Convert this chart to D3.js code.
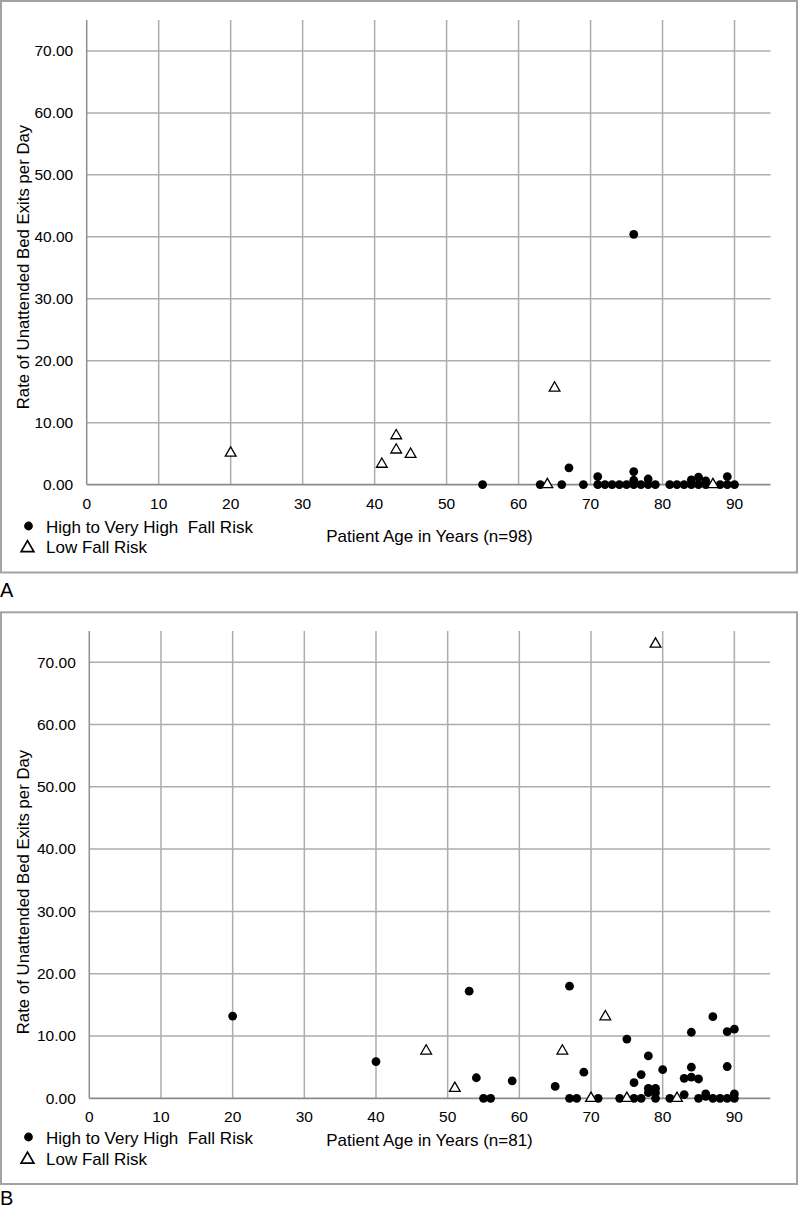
<!DOCTYPE html>
<html>
<head>
<meta charset="utf-8">
<script src="https://cdn.jsdelivr.net/npm/d3@7"></script>
<style>
  html, body { margin: 0; padding: 0; background: #fff; }
  svg { display: block; font-family: "Liberation Sans", Arial, Helvetica, sans-serif; }
</style>
</head>
<body>
<svg id="chart" width="800" height="1210"></svg>
<script>
// ---------------- DATA ----------------
const xTicks = [0, 10, 20, 30, 40, 50, 60, 70, 80, 90];
const yTicks = [0, 10, 20, 30, 40, 50, 60, 70];
const seriesNames = ["High to Very High\u00a0 Fall Risk", "Low Fall Risk"];

// Panel A: [age, rate]
const highA = [
  [55, 0], [63, 0], [66, 0], [67, 2.7], [69, 0],
  [71, 1.3], [71, 0], [72, 0], [73, 0], [74, 0], [75, 0], [76, 0], [76, 2.1], [76, 0.7],
  [77, 0], [78, 0], [78, 0.9], [79, 0],
  [81, 0], [82, 0], [83, 0], [84, 0], [84, 0.75], [85, 0], [85, 1.2], [86, 0], [86, 0.6],
  [88, 0], [89, 0], [89, 1.3], [90, 0],
  [76, 40.4]
];
const lowA = [
  [20, 5.1], [41, 3.3], [43, 7.9], [43, 5.6], [45, 4.9], [64, 0], [65, 15.6], [87, 0]
];

// Panel B: [age, rate]
const highB = [
  [20, 13.2], [40, 5.9], [53, 17.2], [54, 3.3], [55, 0], [56, 0], [59, 2.8],
  [65, 1.9], [67, 18.0], [67, 0], [68, 0], [69, 4.2], [71, 0], [74, 0],
  [75, 9.5], [76, 0], [76, 2.5], [77, 0], [77, 3.8], [78, 6.8], [78, 1.6], [78, 0.9],
  [79, 1.6], [79, 0.9], [79, 0], [80, 4.6], [81, 0],
  [83, 0.6], [83, 3.2], [84, 3.4], [84, 5.0], [84, 10.6], [85, 3.1], [85, 0],
  [86, 0.3], [86, 0.7], [87, 0], [87, 13.1], [88, 0], [89, 0], [89, 5.1], [89, 10.7],
  [90, 0], [90, 0.7], [90, 11.1]
];
const lowB = [
  [47, 7.6], [51, 1.6], [66, 7.6], [70, 0], [72, 13.1], [75, 0], [79, 72.9], [82, 0]
];

const xTitles = ["Patient Age in Years (n=98)", "Patient Age in Years (n=81)"];
const yTitle = "Rate of Unattended Bed Exits per Day";
const panelLetters = ["A", "B"];

// ---------------- LAYOUT ----------------
const panels = [
  { high: highA, low: lowA, xTitle: xTitles[0], letter: panelLetters[0],
    frame: [1, 1, 796, 571.5], left: 86.7, right: 770.5, top: 20, bottom: 484.6,
    xTitleY: 536, yTitleY: 267, legendY: [527.5, 547.5], letterY: 597 },
  { high: highB, low: lowB, xTitle: xTitles[1], letter: panelLetters[1],
    frame: [1, 612.3, 796, 571.7], left: 89.3, right: 770.2, top: 631, bottom: 1098.3,
    xTitleY: 1140, yTitleY: 892, legendY: [1138.5, 1159], letterY: 1205 }
];

const svg = d3.select("#chart");
const gridColor = "#adadad";
const fmt = d3.format(".2f");
const tri = d3.symbol().type(d3.symbolTriangle).size(50);
const triLegend = d3.symbol().type(d3.symbolTriangle).size(70);

panels.forEach(p => {
  const g = svg.append("g");
  const x = d3.scaleLinear().domain([0, 95]).range([p.left, p.right]);
  const y = d3.scaleLinear().domain([0, 75]).range([p.bottom, p.top]);

  // frame
  g.append("rect")
    .attr("x", p.frame[0]).attr("y", p.frame[1])
    .attr("width", p.frame[2]).attr("height", p.frame[3])
    .attr("fill", "none").attr("stroke", "#a3a3a3").attr("stroke-width", 2);

  // horizontal gridlines
  g.append("g").selectAll("line").data(yTicks.filter(d => d > 0)).join("line")
    .attr("x1", x(0)).attr("x2", x(95))
    .attr("y1", d => y(d)).attr("y2", d => y(d))
    .attr("stroke", gridColor).attr("stroke-width", 1.5);

  // vertical gridlines
  g.append("g").selectAll("line").data(xTicks).join("line")
    .attr("x1", d => x(d)).attr("x2", d => x(d))
    .attr("y1", y(0)).attr("y2", y(75))
    .attr("stroke", d => d === 0 ? "#8f8f8f" : gridColor).attr("stroke-width", 1.5);

  // zero line (x axis)
  g.append("line")
    .attr("x1", x(0)).attr("x2", x(95))
    .attr("y1", y(0)).attr("y2", y(0))
    .attr("stroke", "#8a8a8a").attr("stroke-width", 1.8);

  // y tick labels
  g.append("g").selectAll("text").data(yTicks).join("text")
    .attr("x", x(0) - 13.5).attr("y", d => y(d))
    .attr("dy", "0.35em").attr("text-anchor", "end")
    .attr("font-size", 15.5).attr("fill", "#000")
    .text(d => fmt(d));

  // x tick labels
  g.append("g").selectAll("text").data(xTicks).join("text")
    .attr("x", d => x(d)).attr("y", y(0) + 18.5)
    .attr("dy", "0.35em").attr("text-anchor", "middle")
    .attr("font-size", 15.5).attr("fill", "#000")
    .text(d => d);

  // axis titles
  g.append("text")
    .attr("x", 429.5).attr("y", p.xTitleY).attr("dy", "0.35em")
    .attr("text-anchor", "middle").attr("font-size", 17).attr("fill", "#000")
    .text(p.xTitle);
  g.append("text")
    .attr("transform", `translate(23,${p.yTitleY}) rotate(-90)`)
    .attr("dy", "0.35em").attr("text-anchor", "middle")
    .attr("font-size", 16.8).attr("fill", "#000")
    .text(yTitle);

  // markers
  g.append("g").selectAll("circle").data(p.high).join("circle")
    .attr("cx", d => x(d[0])).attr("cy", d => y(d[1]))
    .attr("r", 4.4).attr("fill", "#000");
  g.append("g").selectAll("path").data(p.low).join("path")
    .attr("d", tri)
    .attr("transform", d => `translate(${x(d[0])},${y(d[1])})`)
    .attr("fill", "#fff").attr("stroke", "#000").attr("stroke-width", 1.3);

  // legend
  const lg = g.append("g");
  lg.append("circle").attr("cx", 28.5).attr("cy", p.legendY[0] - 1.5).attr("r", 4.4).attr("fill", "#000");
  lg.append("path").attr("d", triLegend).attr("transform", `translate(27.5,${p.legendY[1] + 0.5})`)
    .attr("fill", "#fff").attr("stroke", "#000").attr("stroke-width", 1.7);
  lg.selectAll("text").data(seriesNames).join("text")
    .attr("x", 46).attr("y", (d, i) => p.legendY[i]).attr("dy", "0.35em")
    .attr("font-size", 17).attr("fill", "#000")
    .text(d => d);

  // panel letter
  g.append("text").attr("x", 0).attr("y", p.letterY)
    .attr("font-size", 20).attr("fill", "#000").text(p.letter);
});
</script>
</body>
</html>
